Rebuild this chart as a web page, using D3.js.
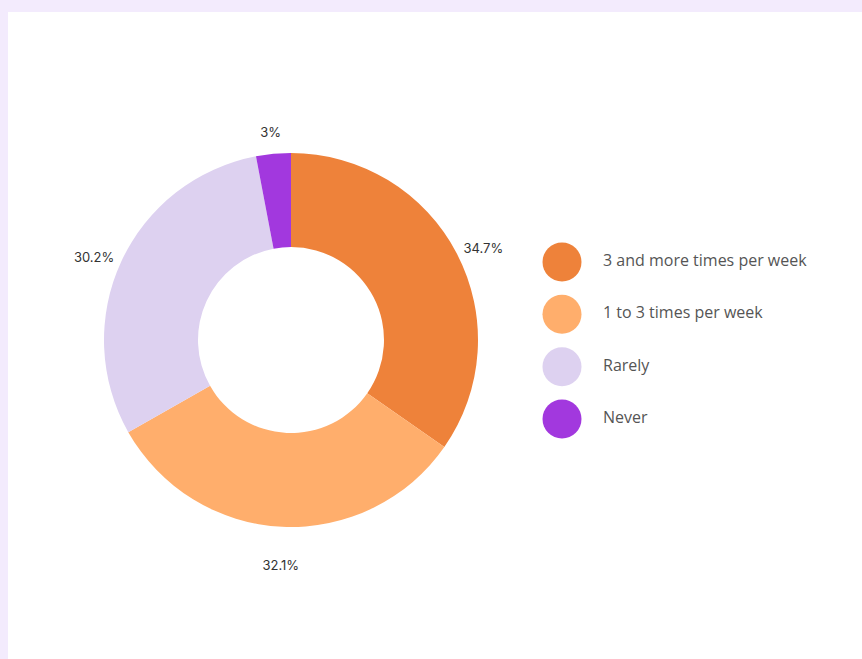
<!DOCTYPE html>
<html>
<head>
<meta charset="utf-8">
<script src="https://cdn.jsdelivr.net/npm/d3@7"></script>
<style>
  html, body { margin: 0; padding: 0; background: #f3ebfd; }
  #visual { position: absolute; left: 8px; top: 12px; width: 854px; height: 647px; background: #ffffff; }
</style>
</head>
<body>
<div id="visual"></div>
<script>
// chart data
const categories = ["3 and more times per week", "1 to 3 times per week", "Rarely", "Never"];
const values = [34.7, 32.1, 30.2, 3];
const labels = ["34.7%", "32.1%", "30.2%", "3%"];
const colors = ["#ee823a", "#ffae6c", "#ddd1f0", "#a238de"];

const width = 854, height = 647;
const cx = 283, cy = 328;          // donut centre inside the panel
const outerR = 187, innerR = 93;

const svg = d3.select("#visual")
    .append("svg")
    .attr("width", width)
    .attr("height", height);

const g = svg.append("g")
    .attr("transform", "translate(" + cx + "," + cy + ")");

const pie = d3.pie().sort(null).value(d => d);
const arcs = pie(values);

const arc = d3.arc().innerRadius(innerR).outerRadius(outerR);
const labelArc = d3.arc().innerRadius(217).outerRadius(217);

// slices
g.selectAll("path.slice")
    .data(arcs)
    .enter()
    .append("path")
    .attr("class", "slice")
    .attr("d", arc)
    .attr("fill", (d, i) => colors[i]);

// percentage labels
g.selectAll("text.pct")
    .data(arcs)
    .enter()
    .append("text")
    .attr("class", "pct")
    .attr("transform", d => {
        const c = labelArc.centroid(d);
        return "translate(" + c[0] + "," + (c[1] + 8) + ")";
    })
    .attr("text-anchor", "middle")
    .attr("dominant-baseline", "central")
    .style("font-family", "Inter, Roboto, sans-serif")
    .style("font-size", "13px")
    .style("fill", "#333333")
    .text((d, i) => labels[i]);

// legend
const legendY = d3.scalePoint()
    .domain(categories)
    .range([250, 407]);

const legend = svg.append("g")
    .attr("transform", "translate(554,0)");

const items = legend.selectAll("g.item")
    .data(categories)
    .enter()
    .append("g")
    .attr("class", "item")
    .attr("transform", d => "translate(0," + legendY(d) + ")");

items.append("circle")
    .attr("r", 19.5)
    .attr("fill", (d, i) => colors[i]);

items.append("text")
    .attr("x", 41)
    .attr("y", -2)
    .attr("dominant-baseline", "central")
    .style("font-family", "'Open Sans', sans-serif")
    .style("font-size", "16px")
    .style("fill", "#555555")
    .text(d => d);
</script>
</body>
</html>
